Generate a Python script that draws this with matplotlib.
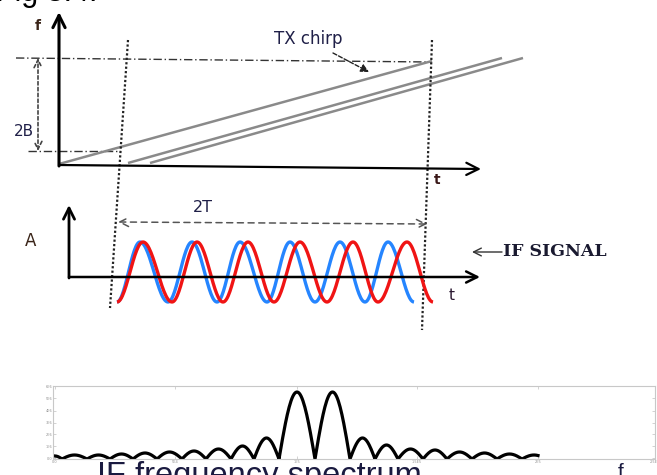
import numpy as np
import matplotlib.pyplot as plt

# ---- top panel: chirps (figure pixel coords, y down) ----
chirp_x0 = [59, 128, 150]
chirp_y0 = [164, 163, 163]
chirp_x1 = [432, 502, 523]
chirp_y1 = [61, 58, 58]

# ---- IF signal: x of successive extrema (starting at a trough) ----
red_ext_x = [117, 143, 172, 197, 223, 248, 274, 300, 327, 353, 378, 407, 433]
blue_ext_x = [117, 140, 168, 192, 217, 240, 267, 290, 315, 340, 365, 388, 414]
wave_peak_y = 242
wave_trough_y = 302

# ---- IF spectrum: lobe boundaries (zeros) and lobe heights ----
spec_zeros = [48, 62, 87, 110, 133, 157, 182, 206, 231, 254, 279,
              315, 350, 375, 398, 423, 447, 472, 497, 522, 546]
spec_heights = [3, 4, 4, 5, 6, 7, 8, 10, 13, 21, 67,
                67, 21, 14, 10, 9, 7, 6, 5, 4]
spec_xticks = [55, 175, 297, 417, 538, 655]
spec_xlabels = ['0.0', '5E4', '1E5', '1.5E5', '2E5', '2.5E5']
spec_yticks = [1, 13, 25, 36, 48, 61, 73]
spec_ylabels = ['0.0', '1E6', '2E6', '3E6', '4E6', '5E6', '6E6']

W, H = 657, 475
fig = plt.figure(figsize=(W / 100, H / 100), dpi=100)
ax = fig.add_axes([0, 0, 1, 1])
ax.set_xlim(0, W)
ax.set_ylim(H, 0)
ax.axis('off')

txt = '#202048'


def arrow(p0, p1, style='->', lw=2.0, color='black', ls='-', ms=18):
    ax.annotate('', xy=p1, xytext=p0,
                arrowprops=dict(arrowstyle=style, lw=lw, color=color,
                                linestyle=ls, mutation_scale=ms,
                                shrinkA=0, shrinkB=0))


# ---------- top panel ----------
ax.text(-4, 0.5, 'Fig 3.4.', fontsize=22, family='Liberation Sans', va='baseline', color='black')
arrow((59, 166), (59, 12), lw=2.2, ms=22)
arrow((59, 165), (481, 169), lw=1.6, ms=22)
ax.text(38, 26, 'f', fontsize=10, family='DejaVu Sans', color='#3a2418',
        ha='center', va='center', fontweight='bold')
ax.text(437, 180, 't', fontsize=10, family='DejaVu Sans', color='#3a1818',
        ha='center', va='center', fontweight='bold')

# dash-dot reference lines
ax.plot([16, 430], [58, 62], color='#333333', lw=1.0, ls=(0, (6, 2, 1, 2)))
ax.plot([28, 120], [151, 151], color='#333333', lw=1.0, ls=(0, (6, 2, 1, 2)))
arrow((38, 151), (38, 58), style='<->', lw=1.2, color='#444444', ls=(0, (2, 1.5)), ms=14)
ax.text(24, 131, '2B', fontsize=11, family='DejaVu Sans', color=txt,
        ha='center', va='center')

for x0, y0, x1, y1 in zip(chirp_x0, chirp_y0, chirp_x1, chirp_y1):
    ax.plot([x0, x1], [y0, y1], color='#8a8a8a', lw=1.8, solid_capstyle='butt')

ax.text(274, 39, 'TX chirp', fontsize=12, family='DejaVu Sans', color=txt,
        ha='left', va='center')
ax.annotate('', xy=(369, 72), xytext=(333, 53),
            arrowprops=dict(arrowstyle='-|>', lw=1.0, color='#222222',
                            linestyle=(0, (3, 1.5)), mutation_scale=12,
                            shrinkA=0, shrinkB=0))

# slanted dotted time markers
ax.plot([128, 110], [40, 308], color='#222222', lw=1.6, ls=(0, (1, 1)))
ax.plot([432, 422], [40, 330], color='#222222', lw=1.6, ls=(0, (1, 1)))

# ---------- middle panel ----------
arrow((69, 278), (69, 205), lw=2.0, ms=20)
arrow((69, 277), (480, 277), lw=1.8, ms=20)
ax.text(31, 241, 'A', fontsize=12, family='DejaVu Sans', color='#3a2418',
        ha='center', va='center')
ax.text(452, 295, 't', fontsize=11, family='DejaVu Sans', color='#2a1830',
        ha='center', va='center')
arrow((118, 222), (427, 224), style='<->', lw=1.1, color='#555555', ls=(0, (4, 3)), ms=16)
ax.text(203, 208, '2T', fontsize=11.5, family='DejaVu Sans', color=txt,
        ha='center', va='center')

arrow((502, 252), (472, 252), lw=1.0, color='#333333', ms=14)
ax.text(503, 252, 'IF SIGNAL', fontsize=12.5, family='DejaVu Serif', fontweight='bold',
        color='#1a1a30', ha='left', va='center')


def wave(ext_x):
    mid = (wave_peak_y + wave_trough_y) / 2
    amp = (wave_trough_y - wave_peak_y) / 2
    xs, ys = [], []
    for k in range(len(ext_x) - 1):
        a, b = ext_x[k], ext_x[k + 1]
        u = np.linspace(0, 1, 30)
        s = 1 if k % 2 == 0 else -1
        xs.append(a + (b - a) * u)
        ys.append(mid + s * amp * np.cos(np.pi * u))
    return np.concatenate(xs), np.concatenate(ys)


bx, by = wave(blue_ext_x)
rx, ry = wave(red_ext_x)
ax.plot(bx, by, color='#2585ff', lw=2.4, solid_capstyle='butt')
ax.plot(rx, ry, color='#f01414', lw=2.4, solid_capstyle='butt')

# ---------- bottom panel: spectrum ----------
sx0, sx1, sy_top, sy_bot = 53, 655, 386, 459
sax = fig.add_axes([sx0 / W, (H - sy_bot) / H, (sx1 - sx0) / W, (sy_bot - sy_top) / H])
sax.set_xlim(sx0, sx1)
sax.set_ylim(0, sy_bot - sy_top)
xs, ys = [], []
for k, h in enumerate(spec_heights):
    a, b = spec_zeros[k], spec_zeros[k + 1]
    u = np.linspace(0, 1, 40)
    xs.append(a + (b - a) * u)
    ys.append(h * np.sin(np.pi * u))
xs = np.concatenate(xs)
ys = np.concatenate(ys)
keep = (xs >= 55) & (xs <= 538)
sax.plot(xs[keep], ys[keep], color='black', lw=2.3)
for s in sax.spines.values():
    s.set_color('#c8c8c8')
    s.set_linewidth(0.8)
sax.set_xticks(spec_xticks)
sax.set_xticklabels(spec_xlabels)
sax.set_yticks(spec_yticks)
sax.set_yticklabels(spec_ylabels)
sax.tick_params(direction='in', length=2, width=0.5, colors='#c0c0c0',
                labelsize=2.5, labelcolor='#909090', pad=0.5, top=True, right=True)
sax.patch.set_alpha(0)

ax.text(97, 461, 'IF frequency spectrum', fontsize=23.5, family='Liberation Sans',
        color='#1a1a40', ha='left', va='top')
ax.text(621, 463, 'f', fontsize=15, family='Liberation Sans', color='#1a1a40',
        ha='center', va='top')

fig.savefig('out.png', dpi=100)
